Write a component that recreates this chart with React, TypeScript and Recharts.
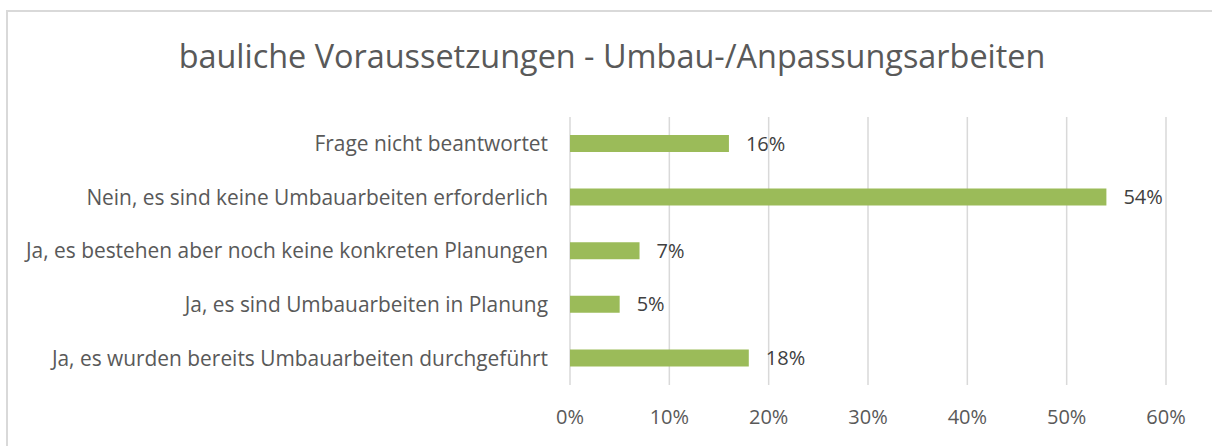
import { Bar, BarChart, CartesianGrid, LabelList, XAxis, YAxis } from "recharts";

const categories = [
  "Frage nicht beantwortet",
  "Nein, es sind keine Umbauarbeiten erforderlich",
  "Ja, es bestehen aber noch keine konkreten Planungen",
  "Ja, es sind Umbauarbeiten in Planung",
  "Ja, es wurden bereits Umbauarbeiten durchgeführt",
];
const shares = [16, 54, 7, 5, 18];
const xTicks = [0, 10, 20, 30, 40, 50, 60];

const data = categories.map((name, i) => ({ name, value: shares[i] }));

const font = "'Open Sans', sans-serif";

export default function App() {
  return (
    <div
      style={{
        position: "absolute",
        left: 6,
        top: 10,
        width: 1204,
        height: 434,
        borderTop: "2px solid #d9d9d9",
        borderLeft: "2px solid #d9d9d9",
        overflow: "hidden",
        fontFamily: font,
      }}
    >
      <div
        style={{
          position: "absolute",
          left: 0,
          width: 1208,
          top: 27,
          textAlign: "center",
          fontSize: 32.4,
          lineHeight: 1,
          color: "#595959",
          whiteSpace: "nowrap",
        }}
      >
        bauliche Voraussetzungen - Umbau-/Anpassungsarbeiten
      </div>
      <div style={{ position: "absolute", left: 0, top: -4 }}>
        <BarChart
          width={1204}
          height={438}
          layout="vertical"
          data={data}
          margin={{ top: 109, right: 46, bottom: 0, left: 0 }}
        >
          <CartesianGrid horizontal={false} stroke="#d9d9d9" strokeWidth={1.5} />
          <XAxis
            type="number"
            domain={[0, 60]}
            ticks={xTicks}
            tickFormatter={(v) => `${v}%`}
            axisLine={false}
            tickLine={false}
            tickSize={0}
            tickMargin={25}
            height={61}
            tick={{ fill: "#595959", fontSize: 20, fontFamily: font }}
          />
          <YAxis
            type="category"
            dataKey="name"
            width={562}
            axisLine={false}
            tickLine={false}
            tickSize={0}
            tickMargin={22}
            tick={{ fill: "#595959", fontSize: 20.9, fontFamily: font }}
          />
          <Bar dataKey="value" fill="#9bbb59" barSize={17} isAnimationActive={false}>
            <LabelList
              dataKey="value"
              position="right"
              offset={17}
              formatter={(v: any) => `${v}%`}
              style={{ fill: "#404040", fontSize: 20, fontFamily: font }}
            />
          </Bar>
        </BarChart>
      </div>
    </div>
  );
}
